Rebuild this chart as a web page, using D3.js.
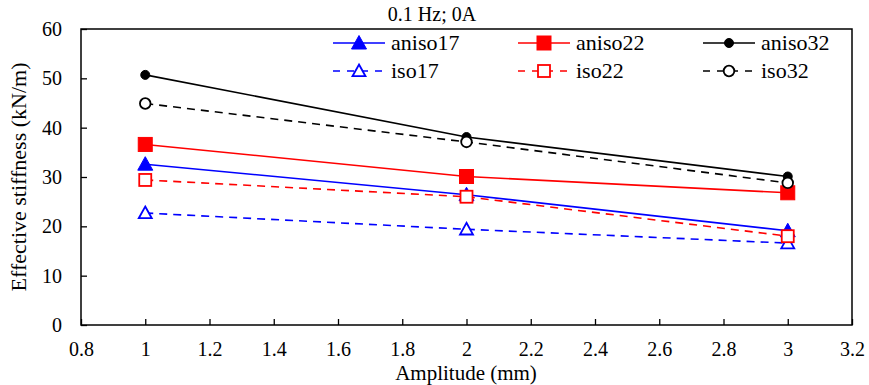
<!DOCTYPE html>
<html>
<head>
<meta charset="utf-8">
<script src="https://cdn.jsdelivr.net/npm/d3@7"></script>
<style>
  body { margin: 0; background: #fff; }
  svg, svg text { font-family: "Liberation Serif", "Times New Roman", serif !important; }
  svg text { fill: #000; }
</style>
</head>
<body>
<svg id="chart" width="869" height="385"></svg>
<script>
// Amplitudes (mm) and effective stiffness (kN/m) per specimen
const amplitudes = [1, 2, 3];
const aniso17 = [32.6, 26.4, 19.1];
const aniso22 = [36.6, 30.1, 26.8];
const aniso32 = [50.7, 38.1, 30.1];
const iso17 = [22.7, 19.4, 16.6];
const iso22 = [29.4, 26.0, 18.0];
const iso32 = [44.9, 37.1, 28.8];
const xTicks = [0.8, 1, 1.2, 1.4, 1.6, 1.8, 2, 2.2, 2.4, 2.6, 2.8, 3, 3.2];
const yTicks = [0, 10, 20, 30, 40, 50, 60];

const series = [
  { name: "aniso17", values: aniso17, color: "#0000ff", dash: null, shape: "triangle", filled: true },
  { name: "aniso22", values: aniso22, color: "#ff0000", dash: null, shape: "square", filled: true },
  { name: "aniso32", values: aniso32, color: "#000000", dash: null, shape: "circle", filled: true },
  { name: "iso17", values: iso17, color: "#0000ff", dash: "8,6", shape: "triangle", filled: false },
  { name: "iso22", values: iso22, color: "#ff0000", dash: "8,6", shape: "square", filled: false },
  { name: "iso32", values: iso32, color: "#000000", dash: "8,6", shape: "circle", filled: false }
];

const FONT = '"Liberation Serif", "Times New Roman", serif';
const svg = d3.select("#chart").attr("font-family", FONT);
const L = 81, R = 852, T = 29, B = 325;

const x = d3.scaleLinear().domain([0.8, 3.2]).range([L, R]);
const y = d3.scaleLinear().domain([0, 60]).range([B, T]);

// Axes with inward ticks
const xAxis = svg.append("g").attr("transform", `translate(0,${B})`)
  .call(d3.axisBottom(x).tickValues(xTicks).tickSize(-6).tickPadding(17).tickFormat(d3.format("")));
const yAxis = svg.append("g").attr("transform", `translate(${L},0)`)
  .call(d3.axisLeft(y).tickValues(yTicks).tickSize(-6).tickPadding(19));
[xAxis, yAxis].forEach(g => {
  g.attr("font-family", FONT);
  g.select(".domain").remove();
  g.selectAll(".tick line").attr("stroke", "#000").attr("stroke-width", 1.3);
  g.selectAll(".tick text").style("font-family", FONT).style("font-size", "20px").attr("fill", "#000");
});

// Plot frame
svg.append("rect").attr("x", L).attr("y", T).attr("width", R - L).attr("height", B - T)
  .attr("fill", "none").attr("stroke", "#000").attr("stroke-width", 1.5);

function drawMarker(g, s, cx, cy) {
  if (s.shape === "circle") {
    g.append("circle").attr("cx", cx).attr("cy", cy).attr("r", s.filled ? 4.5 : 5.3)
      .attr("fill", s.filled ? s.color : "#fff").attr("stroke", s.color).attr("stroke-width", s.filled ? 1 : 1.8);
  } else if (s.shape === "square") {
    const h = s.filled ? 7 : 6;
    g.append("rect").attr("x", cx - h).attr("y", cy - h).attr("width", 2 * h).attr("height", 2 * h)
      .attr("fill", s.filled ? s.color : "#fff").attr("stroke", s.color).attr("stroke-width", s.filled ? 1 : 1.8);
  } else {
    const h = s.filled ? 7.5 : 6.5;
    const pts = [[cx, cy - h], [cx + h, cy + h * 0.8], [cx - h, cy + h * 0.8]];
    g.append("path").attr("d", "M" + pts.map(p => p.join(",")).join("L") + "Z")
      .attr("fill", s.filled ? s.color : "#fff").attr("stroke", s.color).attr("stroke-width", s.filled ? 1 : 1.8);
  }
}

const line = d3.line().x((d, i) => x(amplitudes[i])).y(d => y(d));

series.forEach(s => {
  const g = svg.append("g");
  g.append("path").datum(s.values).attr("d", line)
    .attr("fill", "none").attr("stroke", s.color).attr("stroke-width", 1.6)
    .attr("stroke-dasharray", s.dash);
  s.values.forEach((v, i) => drawMarker(g, s, x(amplitudes[i]), y(v)));
});

// Legend: three columns, two rows
const colX = [333, 518, 703];
const rowY = [43, 71];
series.forEach((s, k) => {
  const cx = colX[k % 3], cy = rowY[Math.floor(k / 3)];
  const g = svg.append("g");
  g.append("line").attr("x1", cx).attr("x2", cx + 52).attr("y1", cy).attr("y2", cy)
    .attr("stroke", s.color).attr("stroke-width", 1.6).attr("stroke-dasharray", s.dash ? "7,7" : null);
  drawMarker(g, s, cx + 26, cy);
  g.append("text").attr("x", cx + 58).attr("y", cy + 7)
    .style("font-size", "22px").text(s.name);
});

// Titles
svg.append("text").attr("x", 432).attr("y", 21).attr("text-anchor", "middle")
  .style("font-size", "20px").text("0.1 Hz;  0A");
svg.append("text").attr("x", 466).attr("y", 380).attr("text-anchor", "middle")
  .style("font-size", "21px").text("Amplitude (mm)");
svg.append("text").attr("transform", "translate(26,177) rotate(-90)")
  .attr("text-anchor", "middle").style("font-size", "22px").text("Effective stiffness (kN/m)");
</script>
</body>
</html>
